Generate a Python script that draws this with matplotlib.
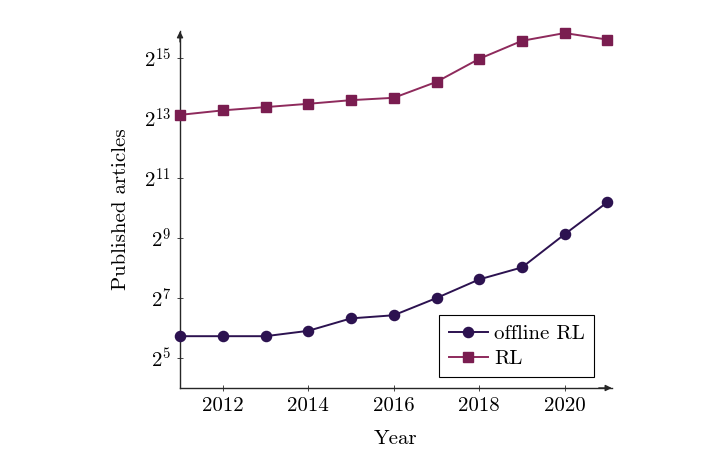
import numpy as np
from matplotlib import pyplot as plt

# Data
years = [2011, 2012, 2013, 2014, 2015, 2016, 2017, 2018, 2019, 2020, 2021]
offline_rl = [53, 53, 53, 60, 80, 86, 128, 197, 260, 560, 1176]
rl = [8840, 9810, 10580, 11420, 12420, 13120, 18950, 32310, 48980, 58630, 50350]
y_tick_exponents = [5, 7, 9, 11, 13, 15]
x_ticks = [2012, 2014, 2016, 2018, 2020]

# Plot aspects
color_offline = '#2c1250'
color_rl_marker = '#7a1d50'
color_rl_line = '#8e2a5c'
axis_color = '#262626'
font_size = 15

plt.rcParams['font.family'] = 'cmr10'
plt.rcParams['mathtext.fontset'] = 'cm'
plt.rcParams['axes.formatter.use_mathtext'] = True

fig = plt.figure(figsize=(7.13, 4.66), dpi=100)
ax = fig.add_axes([0.2525, 0.1674, 0.858 - 0.2525, 0.933 - 0.1674])

ax.plot(years, offline_rl, '-o', color=color_offline, markersize=7.3, linewidth=1.4,
        label='offline RL', clip_on=False, zorder=3)
ax.plot(years, rl, '-s', color=color_rl_line, markerfacecolor=color_rl_marker,
        markeredgecolor=color_rl_marker, markersize=7, linewidth=1.4, label='RL',
        clip_on=False, zorder=3)

ax.set_yscale('log', base=2)
ax.set_xlim(2011, 2021.1)
ax.set_ylim(2 ** 4, 2 ** 15.9)

ax.set_xticks(x_ticks)
ax.set_xticklabels([str(x) for x in x_ticks])
ax.set_yticks([2 ** e for e in y_tick_exponents])
ax.set_yticklabels(['$2^{%d}$' % e for e in y_tick_exponents])
ax.yaxis.set_minor_locator(plt.NullLocator())

# axis lines like pgfplots "axis lines = left"
for side in ['top', 'right']:
    ax.spines[side].set_visible(False)
for side in ['left', 'bottom']:
    ax.spines[side].set_color(axis_color)
    ax.spines[side].set_linewidth(1.0)
ax.annotate('', xy=(1.0, 0), xytext=(0.97, 0), xycoords='axes fraction',
            arrowprops=dict(arrowstyle='-|>', color=axis_color, lw=1.0,
                            mutation_scale=9, shrinkA=0, shrinkB=0))
ax.annotate('', xy=(0, 1.0), xytext=(0, 0.97), xycoords='axes fraction',
            arrowprops=dict(arrowstyle='-|>', color=axis_color, lw=1.0,
                            mutation_scale=9, shrinkA=0, shrinkB=0))

ax.tick_params(which='major', direction='inout', length=5, width=0.6, color=axis_color,
               labelsize=font_size, pad=4)

ax.set_xlabel('Year', fontsize=font_size, labelpad=11)
ax.set_ylabel('Published articles', fontsize=font_size, labelpad=10)

leg = ax.legend(loc='lower right', bbox_to_anchor=(0.96, 0.03), borderaxespad=0,
                fontsize=font_size, fancybox=False, framealpha=1, edgecolor='black',
                handlelength=1.9, handletextpad=0.3, borderpad=0.45, labelspacing=0.3)
leg.get_frame().set_linewidth(0.8)

fig.savefig('out.png', dpi=100)
